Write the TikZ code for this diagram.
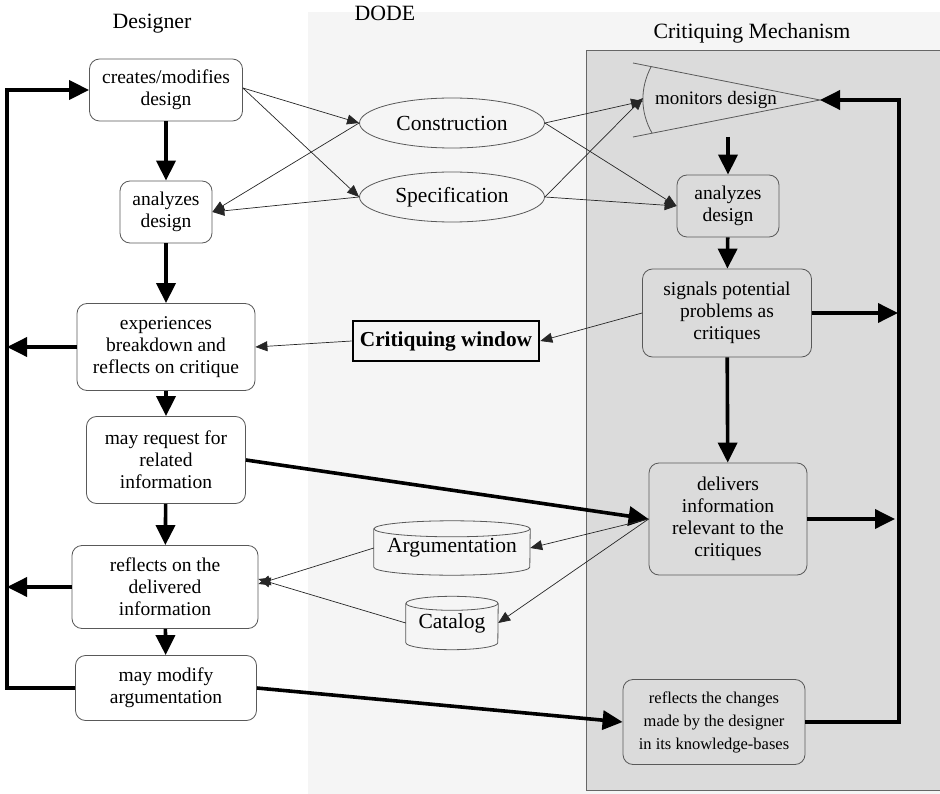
\documentclass[tikz,border=0pt]{standalone}
\usepackage{fontspec}
\setmainfont{Liberation Serif}
\usetikzlibrary{arrows.meta,shapes.geometric}
\begin{document}
\begin{tikzpicture}[x=1pt,y=-1pt,
  box/.style={draw=black!65, line width=0.8pt, rounded corners=10pt, align=center,
    font=\fontsize{19.5}{22}\selectfont, inner sep=0pt},
  wbox/.style={box, fill=white},
  shp/.style={draw=black!65, line width=0.8pt},
  ell/.style={ellipse, shp, inner sep=0pt, font=\fontsize{21.5}{24}\selectfont},
  cyl/.style={inner sep=0pt, font=\fontsize{21.5}{24}\selectfont},
  title/.style={font=\fontsize{21.8}{24}\selectfont, inner sep=0pt},
  thin/.style={draw=black!85, line width=0.7pt, -{Triangle[length=12pt,width=10pt]}},
  thk/.style={draw=black, line width=3.6pt, -{Triangle[length=20pt,width=19pt]}}
]
\useasboundingbox (0,0) rectangle (940,794);
% backgrounds
\fill[black!4] (308,12) rectangle (940,794);
\filldraw[fill=black!14, draw=black!60, line width=0.8pt] (586,50) rectangle (944,790);

% titles
\node[title] (t1) at (152,24) {Designer};
\node[title] (t2) at (385,13) {DODE};
\node[title] (t3) at (752,33) {Critiquing Mechanism};

% designer column
\node[wbox, minimum width=153, minimum height=62] (cr) at (166,90) {creates/modifies\\design};
\node[wbox, minimum width=92, minimum height=62] (an) at (166,212) {analyzes\\design};
\node[wbox, minimum width=178, minimum height=87] (ex) at (166,347) {experiences\\breakdown and\\reflects on critique};
\node[wbox, minimum width=159, minimum height=87] (rq) at (166,460) {may request for\\related\\information};
\node[wbox, minimum width=186, minimum height=83] (rf) at (165,587) {reflects on the\\delivered\\information};
\node[wbox, minimum width=181, minimum height=65] (mm) at (166,688) {may modify\\argumentation};

% DODE column
\node[ell, minimum width=185, minimum height=50] (con) at (452,123) {Construction};
\node[ell, minimum width=185, minimum height=50] (spec) at (452,197) {Specification};
\node[draw=black, line width=2.6pt, inner sep=0pt, minimum width=186, minimum height=40,
  font=\bfseries\fontsize{21.3}{24}\selectfont] (cw) at (446,341) {Critiquing window};
\node[cyl, minimum width=156, minimum height=54] (arg) at (452,548) {Argumentation};
\node[cyl, minimum width=92, minimum height=53] (cat) at (452,623) {Catalog};
\draw[shp] ([yshift=-8pt]arg.north) ellipse [x radius=78, y radius=8];
\draw[shp] ([yshift=-8pt]arg.north west) -- ([yshift=8pt]arg.south west)
  arc[start angle=180, end angle=0, x radius=78, y radius=8] -- ([yshift=-8pt]arg.north east);
\draw[shp] ([yshift=-7pt]cat.north) ellipse [x radius=46, y radius=7];
\draw[shp] ([yshift=-7pt]cat.north west) -- ([yshift=7pt]cat.south west)
  arc[start angle=180, end angle=0, x radius=46, y radius=7] -- ([yshift=-7pt]cat.north east);

% critiquing mechanism column
\coordinate (mtip) at (820,100);
\coordinate (monin) at (643,101);
\coordinate (monb) at (728,137);
\draw[shp] (633,63) -- (mtip) -- (633,137);
\draw[shp] (651,67) .. controls (640,88) and (640,112) .. (652,133);
\node[inner sep=0pt, font=\fontsize{19}{22}\selectfont] (mon) at (716,100) {monitors design};
\node[box, minimum width=102, minimum height=62] (ran) at (728,206) {analyzes\\design};
\node[box, minimum width=169, minimum height=88] (sig) at (727,313) {signals potential\\problems as\\critiques};
\node[box, minimum width=158, minimum height=112] (dl) at (728,519) {delivers\\information\\relevant to the\\critiques};
\node[box, minimum width=182, minimum height=85, font=\fontsize{16.5}{23}\selectfont] (chg) at (714,722) {reflects the changes\\made by the designer\\in its knowledge-bases};

% loop coordinates
\coordinate (lt) at (7,90);
\coordinate (rt) at (899,100);

% thick flows
\draw[thk] (cr) -- (an);
\draw[thk] (an) -- (ex);
\draw[thk] (ex) -- (rq);
\draw[thk] (rq) -- (rf);
\draw[thk] (rf) -- (mm);
\draw[thk] (mm.west) -| (lt) -- (cr.west);
\draw[thk] (ex.west) -- (ex.west -| lt);
\draw[thk] (rf.west) -- (rf.west -| lt);
\draw[thk] (rq.east) -- (dl.west);
\draw[thk] (mm.east) -- (chg.west);
\draw[thk] (monb) -- (ran);
\draw[thk] (ran) -- (sig);
\draw[thk] (sig) -- (dl);
\draw[thk] (chg.east) -| (rt) -- (mtip);
\draw[thk, shorten >=1pt] (sig.east) -- (sig.east -| rt);
\draw[thk, shorten >=4pt] (dl.east) -- (dl.east -| rt);

% thin flows
\draw[thin] ([yshift=2pt]cr.east) -- (con.west);
\draw[thin] ([yshift=2pt]cr.east) -- (spec.west);
\draw[thin] (con.west) -- (an.east);
\draw[thin] (spec.west) -- (an.east);
\draw[thin] (con.east) -- (monin);
\draw[thin] (spec.east) -- ([yshift=3pt]monin);
\draw[thin] (con.east) -- (ran.west);
\draw[thin] (spec.east) -- (ran.west);
\draw[thin] (sig.west) -- (cw.east);
\draw[thin] (cw.west) -- (ex.east);
\draw[thin] (dl.west) -- (arg.east);
\draw[thin] (dl.west) -- (cat.east);
\draw[thin] (arg.west) -- ([yshift=3pt]rf.east);
\draw[thin] (cat.west) -- ([yshift=8pt]rf.east);
\end{tikzpicture}
\end{document}
